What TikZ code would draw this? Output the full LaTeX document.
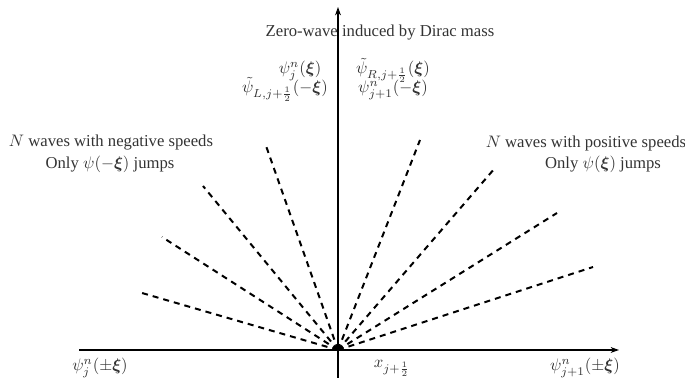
\documentclass[tikz,border=0pt]{standalone}
\usepackage{amsmath,bm}
\usepackage{fontspec}
\setmainfont{Liberation Serif}
\usetikzlibrary{arrows.meta}
\begin{document}
\begin{tikzpicture}[x=0.6pt,y=-0.6pt,
  axis/.style={line width=0.9pt,-{Stealth[length=5pt,width=3.5pt]}},
  wave/.style={line width=1.2pt,dash pattern=on 3.6pt off 3pt},
  lbl/.style={inner sep=0pt,text=black!80,font=\fontsize{10}{11}\selectfont},
  mlbl/.style={lbl,anchor=base}]
\useasboundingbox (0,0) rectangle (685,378);
\coordinate (O) at (338,350);
\coordinate (hl) at (79,350);
\coordinate (hr) at (619,350);
\coordinate (vb) at (338,378);
\coordinate (vt) at (338,7);
\draw[axis] (hl) -- (hr);
\draw[axis] (vb) -- (vt);
% waves
\foreach \n/\p in {l1/{265,143},l2/{203,186},l3/{162,237},l4/{142,293},
                   r1/{420,140},r2/{495,168},r3/{557,213},r4/{593,267}}{
  \coordinate (\n) at (\p);
  \draw[wave] (O) -- (\n);
}
% labels
\node[lbl] (zw) at (380,33) {Zero-wave induced by Dirac mass};
\node[mlbl] (a1) at (300,74) {$\psi_j^n(\bm{\xi})$};
\node[mlbl] (a2) at (285,93) {$\tilde\psi_{L,j+\frac12}(-\bm{\xi})$};
\node[mlbl] (b1) at (393,74) {$\tilde\psi_{R,j+\frac12}(\bm{\xi})$};
\node[mlbl] (b2) at (393,93) {$\psi_{j+1}^n(-\bm{\xi})$};
\node[lbl] (nl1) at (111,143) {$N$ waves with negative speeds};
\node[lbl] (nl2) at (110,164) {Only $\psi(-\bm{\xi})$ jumps};
\node[lbl] (pr1) at (586,143) {$N$ waves with positive speeds};
\node[lbl] (pr2) at (603,164) {Only $\psi(\bm{\xi})$ jumps};
\node[mlbl] (bl) at (100,371) {$\psi_j^n(\pm\bm{\xi})$};
\node[mlbl] (bm) at (392,368) {$x_{j+\frac12}$};
\node[mlbl] (br) at (585,371) {$\psi_{j+1}^n(\pm\bm{\xi})$};
\end{tikzpicture}
\end{document}
